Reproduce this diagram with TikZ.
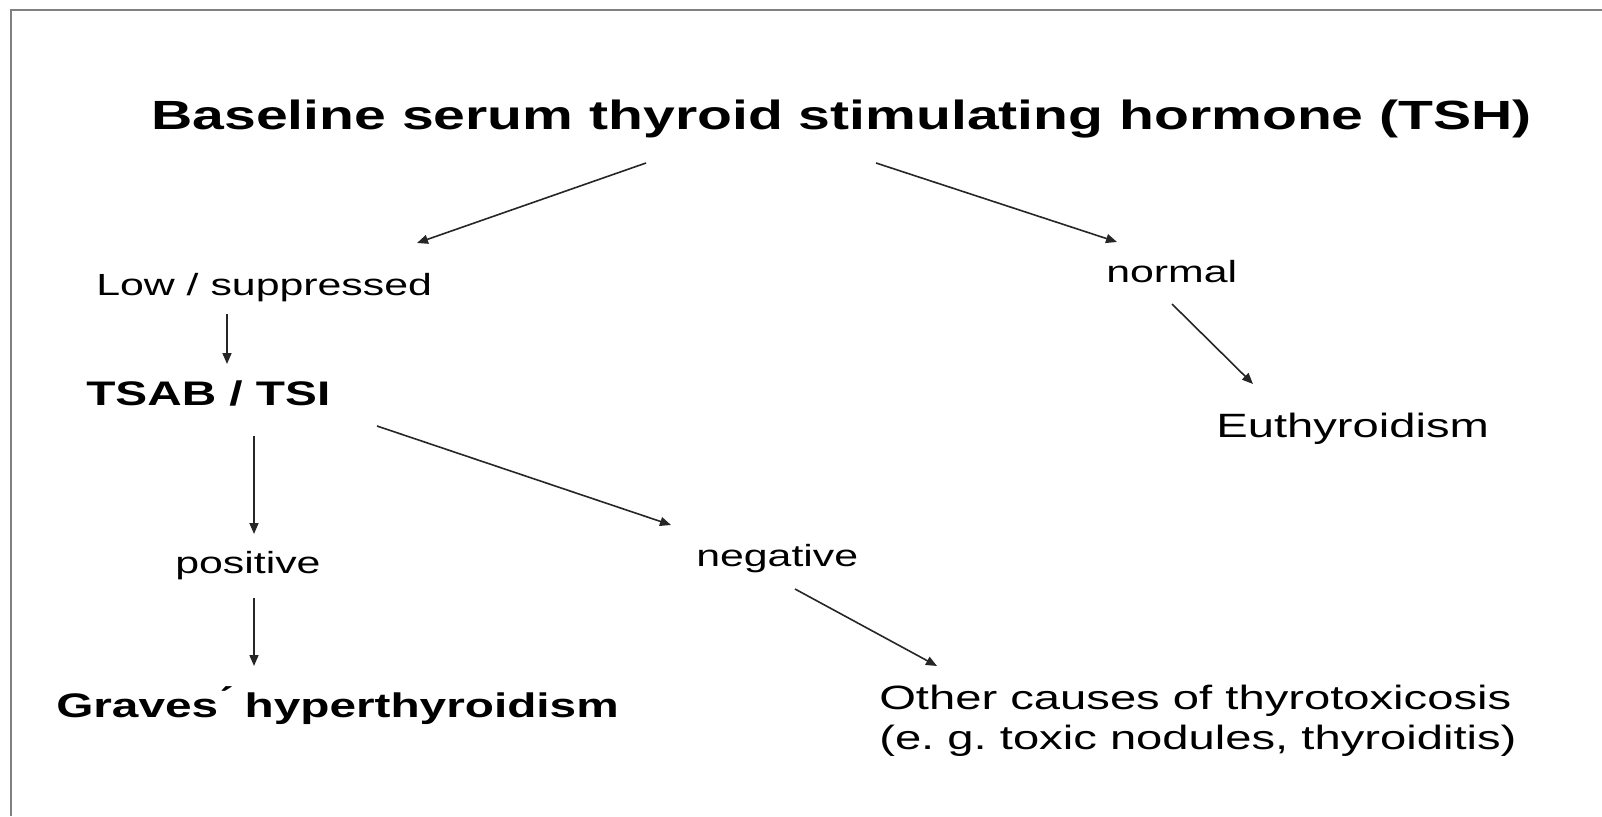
\documentclass[tikz,border=0pt]{standalone}
\usepackage{fontspec}
\setmainfont{Liberation Sans}
\usetikzlibrary{arrows.meta}
\frenchspacing

\begin{document}
\begin{tikzpicture}[x=1pt,y=-1pt,
    label/.style={inner sep=0pt, anchor=base west, xscale=1.4,
      font=\fontsize{33.7}{40}\selectfont},
    smalllabel/.style={label, font=\fontsize{30.6}{36}\selectfont},
    boldlabel/.style={label, font=\fontsize{34.1}{40}\selectfont\bfseries},
    arr/.style={line width=1.6pt, black!85, -{Triangle[length=11pt,width=9pt]}}]
  % Page and frame
  \useasboundingbox (0,0) rectangle (1602,816);
  \draw[gray, line width=2.2pt] (11,816) -- (11,10) -- (1602,10);

  % Title
  \node[label, font=\fontsize{40.8}{48}\selectfont\bfseries] (tsh) at (151,129)
    {Baseline serum thyroid stimulating hormone (TSH)};

  % First branch
  \node[smalllabel] (low) at (96,295) {Low / suppressed};
  \node[smalllabel] (normal) at (1106,282) {normal};
  \node[label] (euthyr) at (1216,437) {Euthyroidism};

  % Antibody test
  \node[boldlabel] (tsab) at (86,405) {TSAB / TSI};
  \node[smalllabel] (pos) at (175,573) {positive};
  \node[smalllabel] (neg) at (696,566) {negative};

  % Diagnoses
  \node[boldlabel] (graves) at (56,717) {Graves\'{} hyperthyroidism};
  \node[label, anchor=north west, align=left] (other) at (879,685)
    {Other causes of thyrotoxicosis\\(e. g. toxic nodules, thyroiditis)};

  % Arrows
  \draw[arr] ([shift={(495,34)}]tsh.base west) -- ([shift={(321,-52)}]low.base west);
  \draw[arr] ([shift={(725,34)}]tsh.base west) -- ([shift={(11,-40)}]normal.base west);
  \draw[arr] ([shift={(131,19)}]low.base west) -- ([shift={(141,-41)}]tsab.base west);
  \draw[arr] ([shift={(66,22)}]normal.base west) -- ([shift={(37,-53)}]euthyr.base west);
  \draw[arr] ([shift={(168,31)}]tsab.base west) -- ([shift={(79,-39)}]pos.base west);
  \draw[arr] ([shift={(291,21)}]tsab.base west) -- ([shift={(-25,-41)}]neg.base west);
  \draw[arr] ([shift={(79,25)}]pos.base west) -- ([shift={(198,-51)}]graves.base west);
  \draw[arr] ([shift={(99,23)}]neg.base west) -- ([shift={(58,-19)}]other.north west);
\end{tikzpicture}
\end{document}
